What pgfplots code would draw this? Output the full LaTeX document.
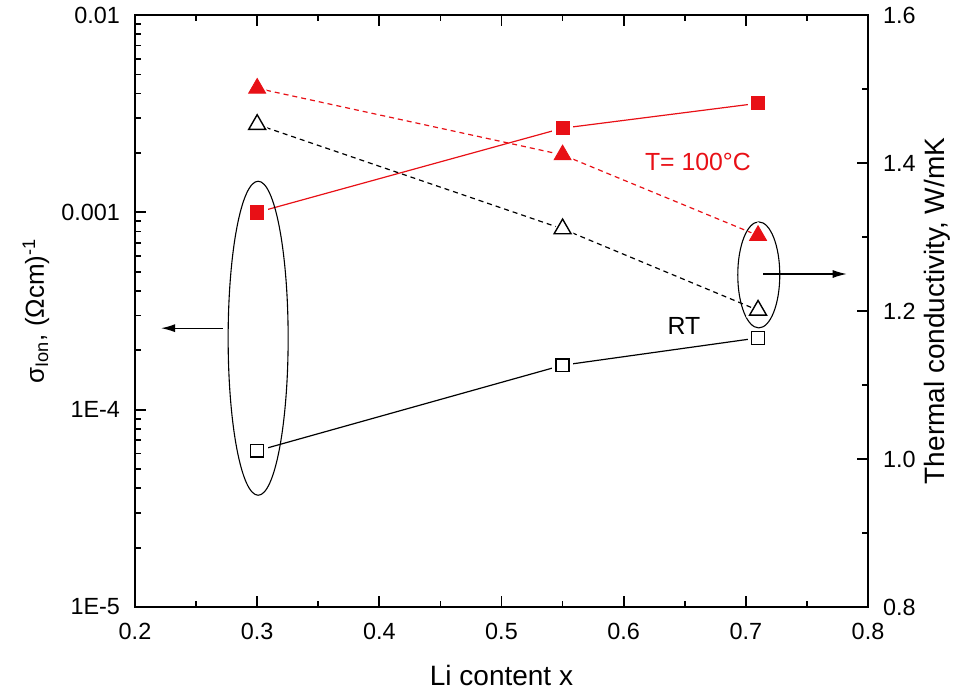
\documentclass[border=0pt]{standalone}
\usepackage{pgfplots}
\pgfplotsset{compat=1.18}
\usepackage{fontspec}
\setmainfont{Liberation Sans}
\usetikzlibrary{arrows.meta}
\definecolor{ored}{RGB}{232,16,22}

\begin{document}
\begin{tikzpicture}
\pgfplotsset{
  base/.style={
    scale only axis, width=366.5pt, height=296pt,
    at={(0,0)}, anchor=south west,
    xmin=0.2, xmax=0.8,
    tick align=inside,
    major tick length=5.5pt, minor tick length=3pt,
    axis line style={line width=1pt},
    every tick/.append style={line width=0.9pt, black},
    ticklabel style={font=\fontsize{11.7}{14}\selectfont},
    label style={font=\fontsize{14}{17}\selectfont},
    /pgf/number format/assume math mode=true,
  },
  halo/.style={only marks, forget plot, mark options={draw=white, fill=white, solid}},
}
% ---------- left axis: ionic conductivity ----------
\begin{axis}[base,
  ymode=log, ymin=1e-5, ymax=1e-2,
  xtick={0.2,0.3,0.4,0.5,0.6,0.7,0.8},
  xticklabels={0.2,0.3,0.4,0.5,0.6,0.7,0.8},
  minor xtick={0.25,0.35,0.45,0.55,0.65,0.75},
  xtick pos=both, xticklabel pos=bottom,
  ytick pos=left,
  ytick={1e-5,1e-4,1e-3,1e-2},
  yticklabels={1E-5,1E-4,0.001,0.01},
  minor ytick={2e-5,3e-5,4e-5,5e-5,6e-5,7e-5,8e-5,9e-5,
               2e-4,3e-4,4e-4,5e-4,6e-4,7e-4,8e-4,9e-4,
               2e-3,3e-3,4e-3,5e-3,6e-3,7e-3,8e-3,9e-3},
  xticklabel style={yshift=-4.5pt},
  yticklabel style={xshift=-4pt},
  xlabel={Li content x},
  ylabel={σ\textsubscript{Ion}, (Ωcm)\textsuperscript{-1}},
  xlabel style={at={(axis description cs:0.5,0)}, anchor=center, yshift=-34pt},
  ylabel style={at={(axis description cs:0,0.5)}, anchor=center, yshift=49.5pt, font=\fontsize{13}{16}\selectfont},
]
% lines
\addplot[black, line width=0.6pt] coordinates {(0.30,6.19e-5) (0.55,1.68e-4) (0.71,2.31e-4)};
\addplot[ored, line width=0.6pt] coordinates {(0.30,1.0e-3) (0.55,2.67e-3) (0.71,3.57e-3)};
% halos
\addplot[halo, mark=square*, mark size=5pt] coordinates {(0.30,6.19e-5) (0.55,1.68e-4) (0.71,2.31e-4)};
\addplot[halo, mark=square*, mark size=5pt] coordinates {(0.30,1.0e-3) (0.55,2.67e-3) (0.71,3.57e-3)};
% marks
\addplot[only marks, mark=square*, mark size=3.2pt, mark options={draw=black, fill=white, line width=0.7pt}] coordinates {(0.30,6.19e-5) (0.55,1.68e-4) (0.71,2.31e-4)};
\addplot[only marks, mark=square*, mark size=3.3pt, mark options={draw=ored, fill=ored}] coordinates {(0.30,1.0e-3) (0.55,2.67e-3) (0.71,3.57e-3)};
\end{axis}
% ---------- right axis: thermal conductivity ----------
\begin{axis}[base,
  ymin=0.8, ymax=1.6,
  axis x line=none, axis y line*=right,
  ytick={0.8,1.0,1.2,1.4,1.6},
  yticklabels={0.8,1.0,1.2,1.4,1.6},
  minor ytick={0.9,1.1,1.3,1.5},
  yticklabel style={xshift=4pt},
  ylabel={Thermal conductivity, W/mK},
  ylabel style={at={(axis description cs:1,0.5)}, anchor=center, yshift=-34.5pt},
]
\addplot[black, line width=0.6pt, dash pattern=on 2.5pt off 2pt] coordinates {(0.30,1.452) (0.55,1.311) (0.71,1.201)};
\addplot[ored, line width=0.6pt, dash pattern=on 2.5pt off 2pt] coordinates {(0.30,1.501) (0.55,1.411) (0.71,1.302)};
\addplot[halo, mark=triangle*, mark size=6.6pt] coordinates {(0.30,1.452) (0.55,1.311) (0.71,1.201)};
\addplot[halo, mark=triangle*, mark size=6.6pt] coordinates {(0.30,1.501) (0.55,1.411) (0.71,1.302)};
\addplot[only marks, mark=triangle*, mark size=4.9pt, mark options={draw=black, fill=white, line width=0.7pt, solid}] coordinates {(0.30,1.452) (0.55,1.311) (0.71,1.201)};
\addplot[only marks, mark=triangle*, mark size=4.9pt, mark options={draw=ored, fill=ored, solid}] coordinates {(0.30,1.501) (0.55,1.411) (0.71,1.302)};
% annotations
\draw[line width=0.55pt] (rel axis cs:0.168,0.454) ellipse [x radius=15pt, y radius=78.5pt];
\draw[line width=0.55pt] (rel axis cs:0.851,0.561) ellipse [x radius=10.5pt, y radius=26.5pt];
\draw[line width=0.6pt, -{Latex[length=7pt,width=4pt]}] (rel axis cs:0.120,0.471) -- (rel axis cs:0.0355,0.471);
\draw[line width=0.6pt, -{Latex[length=7pt,width=4pt]}] (rel axis cs:0.857,0.5625) -- (rel axis cs:0.971,0.5625);
\node[text=ored, font=\fontsize{12.4}{15}\selectfont] at (rel axis cs:0.768,0.752) {T= 100°C};
\node[font=\fontsize{12.4}{15}\selectfont] at (rel axis cs:0.749,0.475) {RT};
\end{axis}
\pgfresetboundingbox
\path[use as bounding box] (-67.5pt,-42pt) rectangle (413pt,303.5pt);
\end{tikzpicture}
\end{document}
